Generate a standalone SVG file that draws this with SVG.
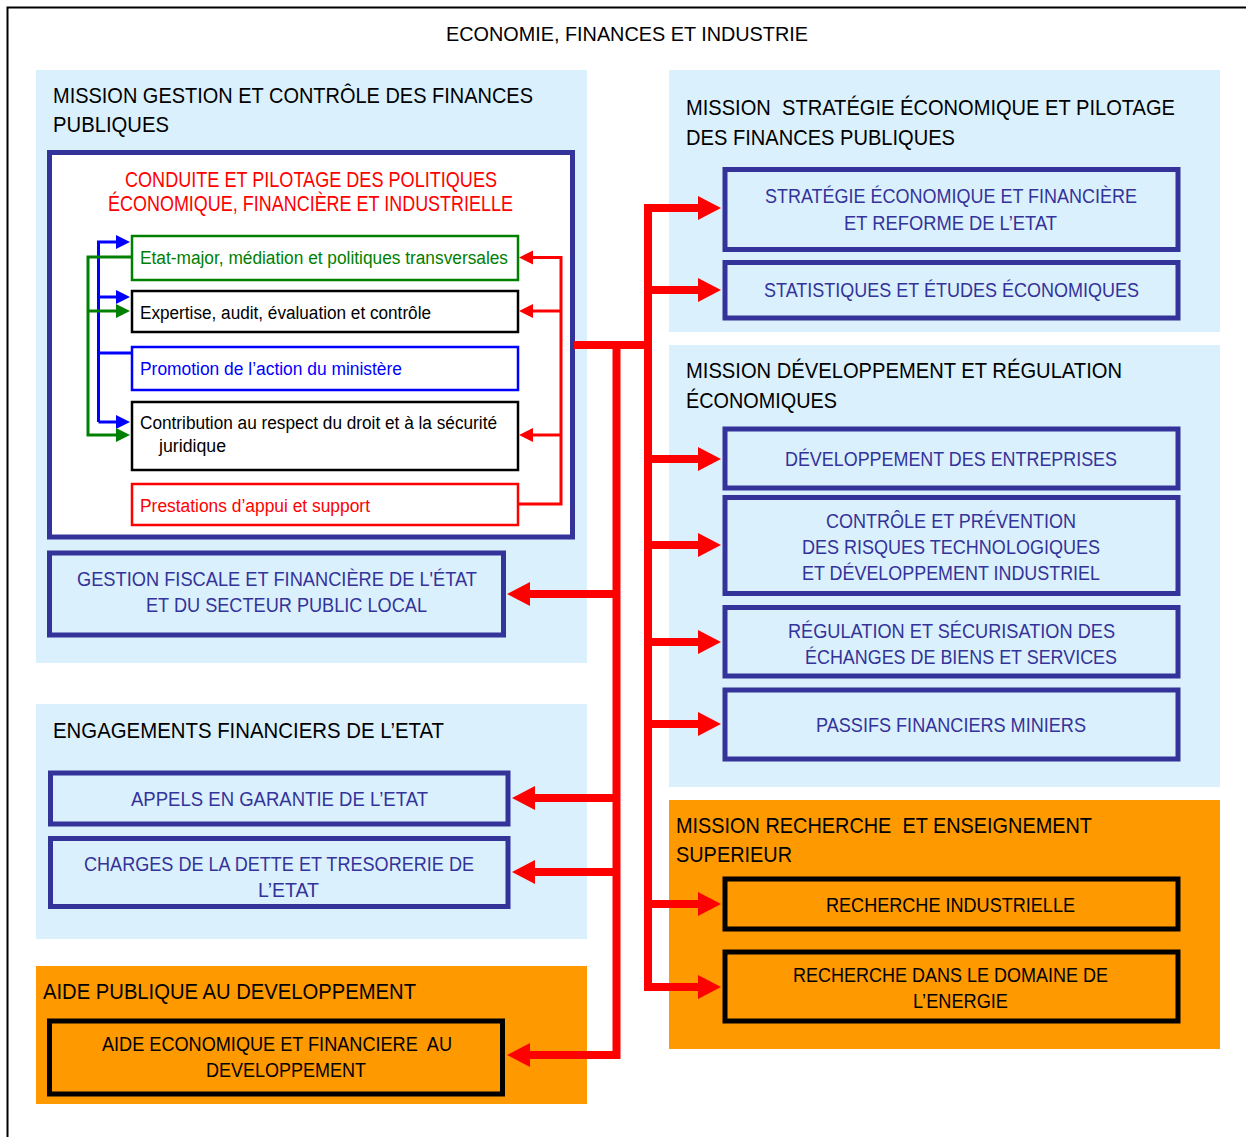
<svg xmlns="http://www.w3.org/2000/svg" width="1246" height="1137" viewBox="0 0 1246 1137">
<style>
text{font-family:"Liberation Sans Narrow","Liberation Sans","Arial Narrow",sans-serif;white-space:pre}
.t{font-size:21px;fill:#000}
.h{font-size:22px;fill:#000}
.b{font-size:20px;fill:#333399}
.k{font-size:20px;fill:#000}
.r{font-size:22px;fill:#FF0000}
.s{font-size:18px}
.panel{fill:#DBF0FD}
.orange{fill:#FF9900}
.box{fill:none;stroke:#333399;stroke-width:5}
.obox{fill:#FF9900;stroke:#000;stroke-width:5}
.big{fill:none;stroke:#FF0000;stroke-width:8}
.sr{fill:none;stroke:#FF0000;stroke-width:3}
.sb{fill:none;stroke:#0000FF;stroke-width:3}
.sg{fill:none;stroke:#008000;stroke-width:3}
</style>
<defs>
<marker id="abig" markerUnits="userSpaceOnUse" markerWidth="24" markerHeight="24" viewBox="0 0 24 24" refX="1" refY="12" orient="auto"><path d="M0,0 L23,12 L0,24 z" fill="#FF0000"/></marker>
<marker id="ar" markerUnits="userSpaceOnUse" markerWidth="15" markerHeight="15" viewBox="0 0 15 15" refX="1" refY="7.5" orient="auto"><path d="M0,0.5 L14,7.5 L0,14.5 z" fill="#FF0000"/></marker>
<marker id="ab" markerUnits="userSpaceOnUse" markerWidth="15" markerHeight="15" viewBox="0 0 15 15" refX="1" refY="7.5" orient="auto"><path d="M0,0.5 L14,7.5 L0,14.5 z" fill="#0000FF"/></marker>
<marker id="ag" markerUnits="userSpaceOnUse" markerWidth="15" markerHeight="15" viewBox="0 0 15 15" refX="1" refY="7.5" orient="auto"><path d="M0,0.5 L14,7.5 L0,14.5 z" fill="#008000"/></marker>
</defs>
<rect x="0" y="0" width="1246" height="1137" fill="#fff"/>
<rect x="7.5" y="7.5" width="1300" height="1200" fill="none" stroke="#000" stroke-width="2"/>
<text class="t" x="446" y="41" textLength="362" lengthAdjust="spacingAndGlyphs">ECONOMIE, FINANCES ET INDUSTRIE</text>

<g id="panels">
<rect class="panel" x="36" y="70" width="551" height="593"/>
<rect class="panel" x="669" y="70" width="551" height="262"/>
<rect class="panel" x="669" y="345" width="551" height="442"/>
<rect class="panel" x="36" y="704" width="551" height="235"/>
<rect class="orange" x="36" y="966" width="551" height="138"/>
<rect class="orange" x="669" y="800" width="551" height="249"/>
</g>

<g id="mission-gestion">
<text class="h" x="53" y="103" textLength="480" lengthAdjust="spacingAndGlyphs">MISSION GESTION ET CONTRÔLE DES FINANCES</text>
<text class="h" x="53" y="132" textLength="116" lengthAdjust="spacingAndGlyphs">PUBLIQUES</text>
</g>
<g id="conduite">
<rect x="49.5" y="152.5" width="523" height="384.5" fill="#fff" stroke="#333399" stroke-width="5"/>
<text class="r" x="125" y="187" textLength="372" lengthAdjust="spacingAndGlyphs">CONDUITE ET PILOTAGE DES POLITIQUES</text>
<text class="r" x="108" y="211" textLength="405" lengthAdjust="spacingAndGlyphs">ÉCONOMIQUE, FINANCIÈRE ET INDUSTRIELLE</text>
</g>
<g id="etat-major">
<rect x="132" y="236" width="386" height="44" fill="#fff" stroke="#008000" stroke-width="2.5"/>
<text class="s" fill="#008000" x="140" y="264" textLength="368" lengthAdjust="spacingAndGlyphs">Etat-major, médiation et politiques transversales</text>
</g>
<g id="expertise">
<rect x="132" y="291" width="386" height="41" fill="#fff" stroke="#000" stroke-width="2.5"/>
<text class="s" fill="#000" x="140" y="319" textLength="291" lengthAdjust="spacingAndGlyphs">Expertise, audit, évaluation et contrôle</text>
</g>
<g id="promotion">
<rect x="132" y="347" width="386" height="43" fill="#fff" stroke="#0000FF" stroke-width="2.5"/>
<text class="s" fill="#0000FF" x="140" y="375" textLength="262" lengthAdjust="spacingAndGlyphs">Promotion de l’action du ministère</text>
</g>
<g id="contribution">
<rect x="132" y="402" width="386" height="68" fill="#fff" stroke="#000" stroke-width="2.5"/>
<text class="s" fill="#000" x="140" y="429" textLength="357" lengthAdjust="spacingAndGlyphs">Contribution au respect du droit et à la sécurité</text>
<text class="s" fill="#000" x="159" y="452" textLength="67" lengthAdjust="spacingAndGlyphs">juridique</text>
</g>
<g id="prestations">
<rect x="132" y="484" width="386" height="41" fill="#fff" stroke="#FF0000" stroke-width="2.5"/>
<text class="s" fill="#FF0000" x="140" y="512" textLength="230" lengthAdjust="spacingAndGlyphs">Prestations d’appui et support</text>
</g>
<g id="gestion-fiscale">
<rect class="box" x="49.5" y="553" width="454" height="82"/>
<text class="b" x="77" y="586" textLength="400" lengthAdjust="spacingAndGlyphs">GESTION FISCALE ET FINANCIÈRE DE L'ÉTAT</text>
<text class="b" x="146" y="612" textLength="281" lengthAdjust="spacingAndGlyphs">ET DU SECTEUR PUBLIC LOCAL</text>
</g>

<g id="engagements">
<text class="h" x="53" y="738" textLength="391" lengthAdjust="spacingAndGlyphs">ENGAGEMENTS FINANCIERS DE L’ETAT</text>
</g>
<g id="appels">
<rect class="box" x="50.5" y="773" width="457.5" height="51"/>
<text class="b" x="131" y="806" textLength="297" lengthAdjust="spacingAndGlyphs">APPELS EN GARANTIE DE L’ETAT</text>
</g>
<g id="charges">
<rect class="box" x="50.5" y="838.5" width="457.5" height="68"/>
<text class="b" x="84" y="871" textLength="390" lengthAdjust="spacingAndGlyphs">CHARGES DE LA DETTE ET TRESORERIE DE</text>
<text class="b" x="258" y="897" textLength="61" lengthAdjust="spacingAndGlyphs">L’ETAT</text>
</g>

<g id="aide-publique">
<text class="h" x="43" y="999" textLength="373" lengthAdjust="spacingAndGlyphs">AIDE PUBLIQUE AU DEVELOPPEMENT</text>
</g>
<g id="aide-economique">
<rect class="obox" x="49.5" y="1021" width="453" height="73"/>
<text class="k" x="102" y="1051" textLength="350" lengthAdjust="spacingAndGlyphs">AIDE ECONOMIQUE ET FINANCIERE  AU</text>
<text class="k" x="206" y="1077" textLength="160" lengthAdjust="spacingAndGlyphs">DEVELOPPEMENT</text>
</g>

<g id="mission-strategie">
<text class="h" x="686" y="115" textLength="489" lengthAdjust="spacingAndGlyphs">MISSION  STRATÉGIE ÉCONOMIQUE ET PILOTAGE</text>
<text class="h" x="686" y="145" textLength="269" lengthAdjust="spacingAndGlyphs">DES FINANCES PUBLIQUES</text>
</g>
<g id="strategie">
<rect class="box" x="725" y="169.5" width="453" height="80"/>
<text class="b" x="765" y="203" textLength="372" lengthAdjust="spacingAndGlyphs">STRATÉGIE ÉCONOMIQUE ET FINANCIÈRE</text>
<text class="b" x="844" y="230" textLength="213" lengthAdjust="spacingAndGlyphs">ET REFORME DE L’ETAT</text>
</g>
<g id="statistiques">
<rect class="box" x="725" y="262.5" width="453" height="55.5"/>
<text class="b" x="764" y="297" textLength="375" lengthAdjust="spacingAndGlyphs">STATISTIQUES ET ÉTUDES ÉCONOMIQUES</text>
</g>

<g id="mission-developpement">
<text class="h" x="686" y="378" textLength="436" lengthAdjust="spacingAndGlyphs">MISSION DÉVELOPPEMENT ET RÉGULATION</text>
<text class="h" x="686" y="408" textLength="151" lengthAdjust="spacingAndGlyphs">ÉCONOMIQUES</text>
</g>
<g id="developpement">
<rect class="box" x="725" y="429" width="453" height="59"/>
<text class="b" x="785" y="466" textLength="332" lengthAdjust="spacingAndGlyphs">DÉVELOPPEMENT DES ENTREPRISES</text>
</g>
<g id="controle">
<rect class="box" x="725" y="497.5" width="453" height="96"/>
<text class="b" x="826" y="528" textLength="250" lengthAdjust="spacingAndGlyphs">CONTRÔLE ET PRÉVENTION</text>
<text class="b" x="802" y="554" textLength="298" lengthAdjust="spacingAndGlyphs">DES RISQUES TECHNOLOGIQUES</text>
<text class="b" x="802" y="580" textLength="298" lengthAdjust="spacingAndGlyphs">ET DÉVELOPPEMENT INDUSTRIEL</text>
</g>
<g id="regulation">
<rect class="box" x="725" y="607.5" width="453" height="68.5"/>
<text class="b" x="788" y="638" textLength="327" lengthAdjust="spacingAndGlyphs">RÉGULATION ET SÉCURISATION DES</text>
<text class="b" x="805" y="664" textLength="312" lengthAdjust="spacingAndGlyphs">ÉCHANGES DE BIENS ET SERVICES</text>
</g>
<g id="passifs">
<rect class="box" x="725" y="690" width="453" height="69"/>
<text class="b" x="816" y="732" textLength="270" lengthAdjust="spacingAndGlyphs">PASSIFS FINANCIERS MINIERS</text>
</g>

<g id="mission-recherche">
<text class="h" x="676" y="833" textLength="416" lengthAdjust="spacingAndGlyphs">MISSION RECHERCHE  ET ENSEIGNEMENT</text>
<text class="h" x="676" y="862" textLength="116" lengthAdjust="spacingAndGlyphs">SUPERIEUR</text>
</g>
<g id="recherche-industrielle">
<rect class="obox" x="725" y="879" width="453" height="50"/>
<text class="k" x="826" y="912" textLength="249" lengthAdjust="spacingAndGlyphs">RECHERCHE INDUSTRIELLE</text>
</g>
<g id="recherche-energie">
<rect class="obox" x="725" y="952" width="453" height="69"/>
<text class="k" x="793" y="982" textLength="315" lengthAdjust="spacingAndGlyphs">RECHERCHE DANS LE DOMAINE DE</text>
<text class="k" x="913" y="1008" textLength="95" lengthAdjust="spacingAndGlyphs">L’ENERGIE</text>
</g>

<g id="connectors">
<path class="big" d="M574,345 H652"/>
<path class="big" d="M616.5,341 V1055 H529" marker-end="url(#abig)"/>
<path class="big" d="M616.5,594 H529" marker-end="url(#abig)"/>
<path class="big" d="M616.5,798 H534" marker-end="url(#abig)"/>
<path class="big" d="M616.5,872 H534" marker-end="url(#abig)"/>
<path class="big" d="M648,349 V208 H699" marker-end="url(#abig)"/>
<path class="big" d="M648,290 H699" marker-end="url(#abig)"/>
<path class="big" d="M648,341 V987 H699" marker-end="url(#abig)"/>
<path class="big" d="M648,459 H699" marker-end="url(#abig)"/>
<path class="big" d="M648,545 H699" marker-end="url(#abig)"/>
<path class="big" d="M648,642 H699" marker-end="url(#abig)"/>
<path class="big" d="M648,724 H699" marker-end="url(#abig)"/>
<path class="big" d="M648,904 H699" marker-end="url(#abig)"/>

<path class="sb" d="M131,353 H98.5"/>
<path class="sb" d="M98.5,422 V242 H117" marker-end="url(#ab)"/>
<path class="sb" d="M98.5,297 H117" marker-end="url(#ab)"/>
<path class="sb" d="M98.5,422 H117" marker-end="url(#ab)"/>

<path class="sg" d="M131,257 H88 V435 H117" marker-end="url(#ag)"/>
<path class="sg" d="M88,311 H117" marker-end="url(#ag)"/>

<path class="sr" d="M518,504 H561 V257.5 H532" marker-end="url(#ar)"/>
<path class="sr" d="M561,311 H532" marker-end="url(#ar)"/>
<path class="sr" d="M561,435 H532" marker-end="url(#ar)"/>
</g>
</svg>
